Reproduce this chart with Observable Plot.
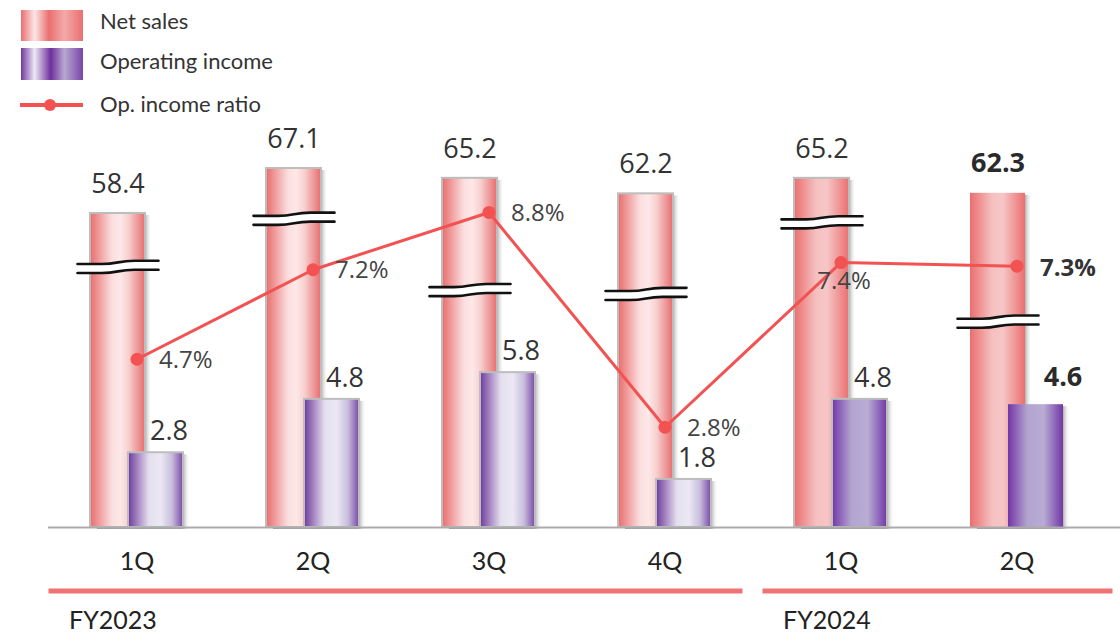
<!DOCTYPE html>
<html>
<head>
<meta charset="utf-8">
<script src="https://cdn.jsdelivr.net/npm/d3@7"></script>
<script src="https://cdn.jsdelivr.net/npm/@observablehq/plot@0.6"></script>
<style>
  body { margin: 0; background: #fff; }
  #wrap { position: relative; width: 1120px; height: 634px; overflow: hidden; background: #fff; }
  #legend { position: relative; width: 1120px; height: 120px; font-family: Lato, "Open Sans", sans-serif; font-size: 22px; color: #333; }
  #legend .sw { position: absolute; left: 21px; width: 62px; }
  #legend .lbl { position: absolute; left: 100px; line-height: 26px; height: 26px; white-space: nowrap; }
  #legend .ln { position: absolute; left: 20px; top: 103px; width: 63px; height: 4px; background: #f25252; }
  #legend .dot { position: absolute; left: 44px; top: 99px; width: 12px; height: 12px; border-radius: 50%; background: #f25252; }
  #chart svg { display: block; }
</style>
</head>
<body>
<div id="wrap">
  <div id="legend"></div>
  <div id="chart"></div>
</div>
<script>
// ---- data ----
const quarters = ["1Q", "2Q", "3Q", "4Q", "1Q", "2Q"];
const fiscalYears = ["FY2023", "FY2023", "FY2023", "FY2023", "FY2024", "FY2024"];
const netSales = [58.4, 67.1, 65.2, 62.2, 65.2, 62.3];
const operatingIncome = [2.8, 4.8, 5.8, 1.8, 4.8, 4.6];
const opIncomeRatio = [4.7, 7.2, 8.8, 2.8, 7.4, 7.3];
const seriesNames = ["Net sales", "Operating income", "Op. income ratio"];

// ---- decoration (axis-break marks, as fraction of each net-sales bar) ----
const breakFrac = [0.83, 0.86, 0.68, 0.70, 0.874, 0.616];

// ---- display scale helpers (broken axis) ----
const PXY = 26.7;            // px per operating-income unit
const UY = 1 / PXY;          // display units per px (vertical)
const UX = 1 / 176;          // index units per px (horizontal)
const netToY = v => (12.1 + 5.17 * v) * UY;
const ratioToY = r => r * 35.8 * UY;

const rows = quarters.map((q, i) => ({
  i, q, fy: fiscalYears[i], net: netSales[i], op: operatingIncome[i], ratio: opIncomeRatio[i],
  latest: i === quarters.length - 1
}));
const n = rows.length;

const netX1 = d => d.i - 46.5 * UX, netX2 = d => d.i + 8.5 * UX, netXc = d => d.i - 19 * UX;
const opX1 = d => d.i - 8.5 * UX, opX2 = d => d.i + 46.5 * UX, opXc = d => d.i + 19 * UX;
const netY = d => netToY(d.net);
const opY = d => d.op;
const ratioY = d => ratioToY(d.ratio);

// break points
const breakPts = [];
rows.forEach((d, k) => {
  const cy = netY(d) * breakFrac[k];
  const xl = netX1(d) - 13 * UX, xr = netX2(d) + 13 * UX, w = xr - xl;
  const t = 1.6 * UY;
  [[xl, -t], [xl + 0.3 * w, -t], [xl + 0.7 * w, t], [xr, t]].forEach(([x, o]) =>
    breakPts.push({ id: k, x, yc: cy + o }));
});

const groups = d3.groups(rows, d => d.fy).map(([fy, rs]) => ({ fy, first: rs[0].i, last: rs[rs.length - 1].i }));
const gX1 = g => g.first - 0.5 + (g.first > 0 ? 10 * UX : 0);
const gX2 = g => g.last + 0.5 + (g.last < n - 1 ? -10 * UX : 8 * UX);

const old = rows.filter(d => !d.latest), cur = rows.filter(d => d.latest);
const fy23 = rows.filter(d => d.fy === "FY2023"), fy24 = rows.filter(d => d.fy === "FY2024");

const numFont = "Open Sans";
const catFont = "Lato";

const plot = Plot.plot({
  width: 1120,
  height: 514,
  marginTop: 0,
  marginBottom: 107,
  marginLeft: 48.5,
  marginRight: 15.5,
  x: { domain: [-0.5, 5.5], axis: null },
  y: { domain: [0, 407 * UY], axis: null },
  style: { fontFamily: numFont, background: "white", overflow: "visible" },
  marks: [
    // net sales shadows + bars
    Plot.rectY(rows, { x1: netX1, x2: netX2, y1: 0, y2: netY, dx: 7, dy: 2, fill: "url(#shadowG)" }),
    Plot.rectY(fy23, { x1: netX1, x2: netX2, y1: 0, y2: netY, fill: "url(#net23)", stroke: "#bdbdbd", strokeWidth: 2 }),
    Plot.rectY(fy24.filter(d => !d.latest), { x1: netX1, x2: netX2, y1: 0, y2: netY, fill: "url(#net24)", stroke: "#bdbdbd", strokeWidth: 2 }),
    Plot.rectY(cur, { x1: netX1, x2: netX2, y1: 0, y2: netY, fill: "url(#net24)" }),
    // axis breaks
    Plot.areaY(breakPts, { x: "x", y1: d => d.yc - 5 * UY, y2: d => d.yc + 5 * UY, z: "id", curve: "bump-x", fill: "white" }),
    Plot.line(breakPts, { x: "x", y: d => d.yc + 4.5 * UY, z: "id", curve: "bump-x", stroke: "#111", strokeWidth: 2.6 }),
    Plot.line(breakPts, { x: "x", y: d => d.yc - 4.5 * UY, z: "id", curve: "bump-x", stroke: "#111", strokeWidth: 2.6 }),
    // operating income shadows + bars
    Plot.rectY(rows, { x1: opX1, x2: opX2, y1: 0, y2: opY, dx: 7, dy: 2, fill: "url(#shadowG)" }),
    Plot.rectY(fy23, { x1: opX1, x2: opX2, y1: 0, y2: opY, fill: "url(#op23)", stroke: "#bdbdbd", strokeWidth: 2 }),
    Plot.rectY(fy24.filter(d => !d.latest), { x1: opX1, x2: opX2, y1: 0, y2: opY, fill: "url(#op24)", stroke: "#bdbdbd", strokeWidth: 2 }),
    Plot.rectY(cur, { x1: opX1, x2: opX2, y1: 0, y2: opY, fill: "url(#op24)" }),
    // baseline
    Plot.ruleY([0], { x1: -0.503, x2: 5.59, stroke: "#ababab", strokeWidth: 2 }),
    // value labels
    Plot.text(old, { x: netXc, y: netY, text: d => d.net.toFixed(1), dy: -29, fontSize: 27, fill: "#333", fontFamily: numFont }),
    Plot.text(cur, { x: netXc, y: netY, text: d => d.net.toFixed(1), dy: -30, fontSize: 27, fontWeight: "bold", fill: "#2a2a2a", fontFamily: numFont }),
    Plot.text(old, { x: opXc, y: opY, text: d => d.op.toFixed(1), dx: 13, dy: -21, fontSize: 27, fill: "#333", fontFamily: numFont }),
    Plot.text(cur, { x: opXc, y: opY, text: d => d.op.toFixed(1), dx: 27, dy: -27, fontSize: 27, fontWeight: "bold", fill: "#2a2a2a", fontFamily: numFont }),
    // ratio line
    Plot.line(rows, { x: "i", y: ratioY, stroke: "#f25252", strokeWidth: 3 }),
    Plot.dot(rows, { x: "i", y: ratioY, r: 6.5, fill: "#f25252" }),
    Plot.text(rows.filter(d => !d.latest && d.i !== 4), { x: "i", y: ratioY, text: d => d.ratio.toFixed(1) + "%", textAnchor: "start", dx: 22, dy: 1, fontSize: 24, fill: "#444", fontFamily: numFont }),
    Plot.text(rows.filter(d => d.i === 4), { x: "i", y: ratioY, text: d => d.ratio.toFixed(1) + "%", dx: 3, dy: 19, fontSize: 24, fill: "#444", fontFamily: numFont }),
    Plot.text(cur, { x: "i", y: ratioY, text: d => d.ratio.toFixed(1) + "%", textAnchor: "start", dx: 23, dy: 2, fontSize: 24, fontWeight: "bold", fill: "#333", fontFamily: numFont }),
    // quarter labels
    Plot.text(rows, { x: "i", y: () => -34 * UY, text: "q", fontSize: 25, fill: "#222", fontFamily: catFont }),
    // fiscal year groups
    Plot.ruleY(groups, { y: () => -63.5 * UY, x1: gX1, x2: gX2, stroke: "#f07272", strokeWidth: 5 }),
    Plot.text(groups, { x: gX1, y: () => -93 * UY, text: "fy", textAnchor: "start", dx: 20, fontSize: 25, fill: "#222", fontFamily: catFont })
  ]
});

// gradients
const defs = d3.select(plot).insert("defs", ":first-child");
function grad(id, stops) {
  const g = defs.append("linearGradient").attr("id", id)
    .attr("x1", 0).attr("x2", 1).attr("y1", 0).attr("y2", 0);
  stops.forEach(([o, c, op]) => g.append("stop").attr("offset", o).attr("stop-color", c).attr("stop-opacity", op == null ? 1 : op));
}
grad("net23", [[0, "#e86c6c"], [0.4, "#fcdede"], [0.55, "#fde8e8"], [0.7, "#f8d0d0"], [1, "#e86c6c"]]);
grad("net24", [[0, "#eb6e6e"], [0.4, "#f5c0c0"], [0.6, "#f6c6c6"], [1, "#eb6e6e"]]);
grad("op23", [[0, "#6e3a9c"], [0.38, "#e4dfee"], [0.6, "#ebe8f3"], [0.8, "#c8bcdc"], [1, "#7a48a8"]]);
grad("op24", [[0, "#7236a6"], [0.35, "#b2a4d0"], [0.65, "#b8acd4"], [1, "#7236a6"]]);
grad("shadowG", [[0, "#9a9a9a"], [0.86, "#9e9e9e"], [1, "#ffffff", 0]]);

document.getElementById("chart").appendChild(plot);

// legend
const legend = document.getElementById("legend");
const swNet = "linear-gradient(90deg,#ea6f6f 0%,#fde6e6 22%,#ea6f6f 45%,#f3a9a9 70%,#ea6f6f 100%)";
const swOp = "linear-gradient(90deg,#6f3a9e 0%,#ece8f4 22%,#6e2f9e 48%,#b6a8d0 70%,#7a44a8 100%)";
legend.innerHTML =
  `<div class="sw" style="top:10px;height:31px;background:${swNet}"></div>` +
  `<div class="sw" style="top:48px;height:32px;background:${swOp}"></div>` +
  `<div class="ln"></div><div class="dot"></div>` +
  `<div class="lbl" style="top:8px">${seriesNames[0]}</div>` +
  `<div class="lbl" style="top:48px">${seriesNames[1]}</div>` +
  `<div class="lbl" style="top:91px">${seriesNames[2]}</div>`;
</script>
</body>
</html>
